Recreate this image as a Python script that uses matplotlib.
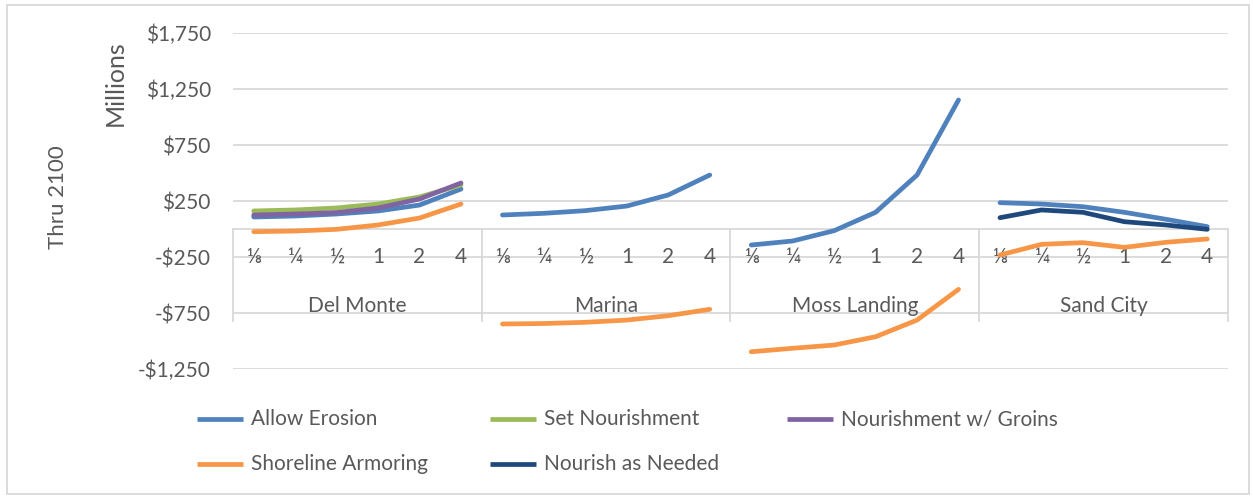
import numpy as np
import matplotlib
matplotlib.use('Agg')
import matplotlib.pyplot as plt
from matplotlib.lines import Line2D
from matplotlib.patches import Rectangle
from matplotlib.ticker import FuncFormatter

plt.rcParams['font.family'] = ['Lato', 'DejaVu Sans']

groups = ['Del Monte', 'Marina', 'Moss Landing', 'Sand City']
levels = ['⅛', '¼', '½', '1', '2', '4']

# values in $ millions, one list of 6 per group (None = no line)
allow_erosion = [
    [107, 116, 134, 161, 214, 357],
    [125, 140, 164, 205, 304, 482],
    [-143, -107, -15, 149, 482, 1152],
    [235, 223, 199, 149, 87, 21],
]
set_nourishment = [
    [161, 170, 188, 223, 286, 393],
    None, None, None,
]
nourish_groins = [
    [125, 134, 147, 188, 268, 411],
    None, None, None,
]
shoreline_armoring = [
    [-24, -18, -3, 36, 98, 223],
    [-848, -844, -833, -813, -774, -717],
    [-1096, -1065, -1036, -962, -813, -539],
    [-232, -137, -122, -164, -119, -89],
]
nourish_needed = [
    None, None, None,
    [101, 170, 149, 65, 36, -3],
]

series = [
    ('Allow Erosion', allow_erosion, '#4F81BD'),
    ('Set Nourishment', set_nourishment, '#9BBB59'),
    ('Nourishment w/ Groins', nourish_groins, '#8064A2'),
    ('Shoreline Armoring', shoreline_armoring, '#F79646'),
    ('Nourish as Needed', nourish_needed, '#1F497D'),
]
draw_order = [0, 3, 4, 1, 2]

grid_c = '#d9d9d9'
txt_c = '#595959'
fs = 15

fig = plt.figure(figsize=(12.53, 4.97), dpi=100)
W, H = 1253, 497
ax = fig.add_axes([233 / W, 1 - 369 / H, 995 / W, 336 / H])

n = len(levels)
for i in draw_order:
    name, data, col = series[i]
    for g, vals in enumerate(data):
        if vals is None:
            continue
        x = np.arange(n) + g * n
        ax.plot(x, vals, color=col, lw=3.4, solid_capstyle='round',
                solid_joinstyle='round', zorder=3)

ax.set_xlim(-0.5, len(groups) * n - 0.5)
ax.set_ylim(-1250, 1750)
ax.set_yticks(np.arange(-1250, 1751, 500))
ax.yaxis.set_major_formatter(FuncFormatter(
    lambda v, p: ('-$' if v < 0 else '$') + f'{abs(v):,.0f}'))
ax.tick_params(axis='y', length=0, pad=16, labelsize=fs, labelcolor=txt_c)
ax.set_xticks([])
ax.grid(axis='y', color=grid_c, lw=1.3, zorder=0)
for s in ax.spines.values():
    s.set_visible(False)

# category axis crossing at zero
ax.axhline(0, color=grid_c, lw=1.3, zorder=1)
for g in range(len(groups) + 1):
    ax.plot([g * n - 0.5] * 2, [0, -825], color=grid_c, lw=1.3, zorder=1,
            clip_on=False)
for g, gname in enumerate(groups):
    for k, lab in enumerate(levels):
        ax.text(g * n + k, -250, lab, ha='center', va='center',
                fontsize=fs, color=txt_c, zorder=2)
    ax.text(g * n + (n - 1) / 2, -690, gname, ha='center', va='center',
            fontsize=fs, color=txt_c, zorder=2)

fig.text(115 / W, 1 - 83 / H, 'Millions', rotation=90, ha='center',
         va='center', fontsize=18, color=txt_c)
fig.text(58 / W, 1 - 197 / H, 'Thru 2100', rotation=90, ha='center',
         va='center', fontsize=16, color=txt_c)

# legend, laid out row-wise like the original
col_x = [197, 490, 787]
row_y = [419, 464]
for i, (name, data, col) in enumerate(series):
    r, c = divmod(i, 3)
    x0, y0 = col_x[c], row_y[r]
    fig.add_artist(Line2D([x0 / W, (x0 + 46) / W], [1 - y0 / H] * 2,
                          color=col, lw=3.4, solid_capstyle='butt'))
    fig.text((x0 + 54) / W, 1 - y0 / H, name, ha='left', va='center',
             fontsize=fs, color=txt_c)

fig.add_artist(Rectangle((7 / W, 3 / H), 1242 / W, 489 / H, fill=False,
                         edgecolor=grid_c, lw=1.3, transform=fig.transFigure))

fig.savefig('out.png', dpi=100)
